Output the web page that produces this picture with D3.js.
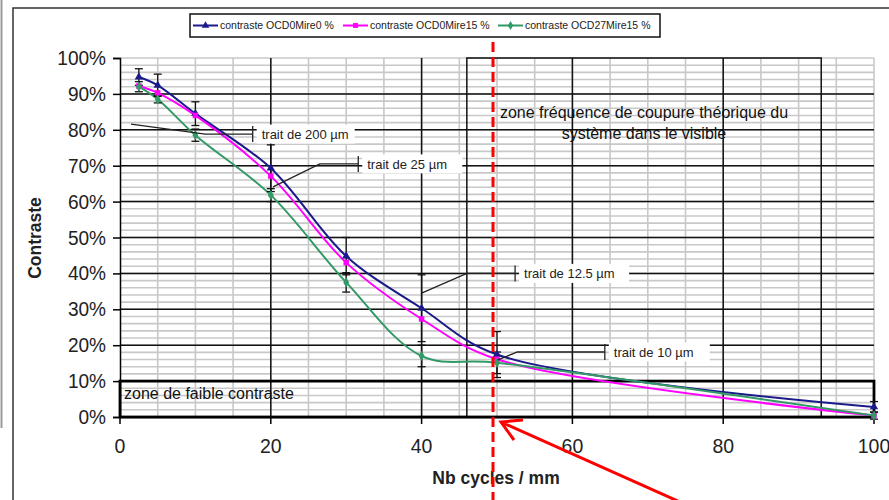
<!DOCTYPE html>
<html>
<head>
<meta charset="utf-8">
<script src="https://cdn.jsdelivr.net/npm/d3@7"></script>
<style>
  body { margin: 0; background: #fff; }
  svg { display: block; font-family: "Liberation Sans", Arial, sans-serif; }
</style>
</head>
<body>
<div id="chart"></div>
<script>
const cycles = [2.5, 5, 10, 20, 30, 40, 50, 100];
const seriesNames = ["contraste OCD0Mire0 %", "contraste OCD0Mire15 %", "contraste OCD27Mire15 %"];
const contrastOcd0Mire0 = [94.7, 92.4, 84.5, 69.3, 44.8, 30.3, 17.4, 2.8];
const contrastOcd0Mire15 = [92.2, 90.3, 84.0, 67.1, 43.0, 27.3, 16.1, 0.4];
const contrastOcd27Mire15 = [92.0, 88.5, 78.5, 61.8, 37.5, 17.0, 15.1, 0.4];
const errorOcd0Mire0 = [2.3, 3.1, 3.3, 6.5, 5.2, 9.3, 6.4, 1.5];
const errorOcd27Mire15 = [1.4, 1.0, 1.7, 1.8, 2.7, 3.0, 3.0, 1.0];
const xTicks = [0, 20, 40, 60, 80, 100];
const yTicks = [0, 10, 20, 30, 40, 50, 60, 70, 80, 90, 100];
const traitLabels = ["trait de 200 µm", "trait de 25 µm", "trait de 12.5 µm", "trait de 10 µm"];

const width = 889;
const height = 500;
const font = "'Liberation Sans', Arial, sans-serif";

const x = d3.scaleLinear().domain([0, 100]).range([120, 874]);
const y = d3.scaleLinear().domain([0, 100]).range([417, 58]);

const series = [
  { name: seriesNames[0], values: contrastOcd0Mire0, color: "#1a1a8a", symbol: d3.symbolTriangle, err: errorOcd0Mire0 },
  { name: seriesNames[1], values: contrastOcd0Mire15, color: "#ff00ff", symbol: d3.symbolSquare, err: null },
  { name: seriesNames[2], values: contrastOcd27Mire15, color: "#339966", symbol: d3.symbolDiamond, err: errorOcd27Mire15 },
];

const svg = d3.select("#chart").append("svg").attr("width", width).attr("height", height);

// frame around the figure
svg.append("line").attr("x1", 1.5).attr("x2", 1.5).attr("y1", 0).attr("y2", 428)
  .attr("stroke", "#999").attr("stroke-width", 2);
svg.append("path").attr("d", "M13,500V8H889").attr("fill", "none")
  .attr("stroke", "#333").attr("stroke-width", 1.5);

// grid
const grid = svg.append("g");
grid.selectAll(".vmin").data(d3.range(5, 101, 5)).enter().append("line")
  .attr("x1", (d) => x(d)).attr("x2", (d) => x(d)).attr("y1", y(100)).attr("y2", y(0))
  .attr("stroke", "#c8c8c8").attr("stroke-width", 1.6);
grid.selectAll(".hmin").data(d3.range(2, 101, 2)).enter().append("line")
  .attr("x1", x(0)).attr("x2", x(100)).attr("y1", (d) => y(d)).attr("y2", (d) => y(d))
  .attr("stroke", "#c8c8c8").attr("stroke-width", 1.6);
grid.selectAll(".hmaj").data(yTicks.filter((d) => d > 0 && d < 100)).enter().append("line")
  .attr("x1", x(0)).attr("x2", x(100)).attr("y1", (d) => y(d)).attr("y2", (d) => y(d))
  .attr("stroke", "#111").attr("stroke-width", 1.5);
grid.selectAll(".vmaj").data(xTicks.filter((d) => d > 0 && d < 100)).enter().append("line")
  .attr("x1", (d) => x(d)).attr("x2", (d) => x(d)).attr("y1", y(100)).attr("y2", y(0))
  .attr("stroke", "#111").attr("stroke-width", 1.5);

// zones
svg.append("rect").attr("x", x(46)).attr("y", y(100)).attr("width", x(93) - x(46)).attr("height", y(0) - y(100))
  .attr("fill", "none").attr("stroke", "#111").attr("stroke-width", 1.5);
svg.append("rect").attr("x", x(0)).attr("y", y(10)).attr("width", x(100) - x(0)).attr("height", y(0) - y(10))
  .attr("fill", "none").attr("stroke", "#000").attr("stroke-width", 2.8);

svg.append("text").attr("x", 124).attr("y", 399).attr("font-size", 16).attr("fill", "#111")
  .text("zone de faible contraste");
svg.append("text").attr("x", 644).attr("y", 118).attr("text-anchor", "middle").attr("font-size", 16).attr("fill", "#111")
  .text("zone fréquence de coupure théorique du");
svg.append("text").attr("x", 644).attr("y", 139).attr("text-anchor", "middle").attr("font-size", 16).attr("fill", "#111")
  .text("système dans le visible");

// axes
const yAxis = svg.append("g").attr("transform", `translate(${x(0)},0)`)
  .call(d3.axisLeft(y).tickValues(yTicks).tickSize(7).tickPadding(8).tickFormat((d) => d + "%"));
const xAxis = svg.append("g").attr("transform", `translate(0,${y(0)})`)
  .call(d3.axisBottom(x).tickValues(xTicks).tickSize(7).tickPadding(14).tickSizeOuter(0));
[xAxis, yAxis].forEach((a) => {
  a.select(".domain").attr("stroke", "#000").attr("stroke-width", 1.5);
  a.selectAll(".tick line").attr("stroke", "#000").attr("stroke-width", 1.5);
  a.selectAll(".tick text").attr("font-family", font).attr("font-size", 20.5).attr("fill", "#222");
});
yAxis.selectAll(".tick text").attr("transform", "scale(0.93,1)");
xAxis.selectAll(".tick text").attr("transform", "scale(0.95,1)")
  .attr("x", (d) => 0);
xAxis.selectAll(".tick").each(function (d) {
  d3.select(this).attr("transform", `translate(${x(d)},0)`);
});

svg.append("text").attr("x", 496).attr("y", 484).attr("text-anchor", "middle")
  .attr("font-size", 17.5).attr("font-weight", "bold").attr("fill", "#222").text("Nb cycles / mm");
svg.append("text").attr("transform", "translate(41,238) rotate(-90)").attr("text-anchor", "middle")
  .attr("font-size", 17.5).attr("font-weight", "bold").attr("fill", "#222").text("Contraste");

// series lines
const line = d3.line().x((d) => x(d[0])).y((d) => y(d[1])).curve(d3.curveCatmullRom.alpha(0.5));
series.forEach((s) => {
  const pts = cycles.map((c, i) => [c, s.values[i]]);
  svg.append("path").datum(pts).attr("d", line).attr("fill", "none")
    .attr("stroke", s.color).attr("stroke-width", 2);
});

// error bars
series.filter((s) => s.err).forEach((s) => {
  const g = svg.append("g").attr("stroke", "#111").attr("stroke-width", 1.3);
  cycles.forEach((c, i) => {
    const lo = y(s.values[i] - s.err[i]);
    const hi = y(s.values[i] + s.err[i]);
    g.append("line").attr("x1", x(c)).attr("x2", x(c)).attr("y1", lo).attr("y2", hi);
    g.append("line").attr("x1", x(c) - 4).attr("x2", x(c) + 4).attr("y1", lo).attr("y2", lo);
    g.append("line").attr("x1", x(c) - 4).attr("x2", x(c) + 4).attr("y1", hi).attr("y2", hi);
  });
});

// markers
series.forEach((s) => {
  svg.append("g").selectAll("path").data(cycles.map((c, i) => [c, s.values[i]])).enter().append("path")
    .attr("d", d3.symbol().type(s.symbol).size(30))
    .attr("transform", (d) => `translate(${x(d[0])},${y(d[1])})`)
    .attr("fill", s.color);
});

// callouts: leader in data units, then bar and label
const callouts = [
  { label: traitLabels[0], path: [[1.46, 81.6], [11.3, 78.8], [17.6, 78.8]], boxW: 98 },
  { label: traitLabels[1], path: [[20.3, 64.1], [26.5, 70.5], [31.6, 70.5]], boxW: 100 },
  { label: traitLabels[2], path: [[40.0, 34.5], [46.0, 40.0], [52.4, 40.0]], boxW: 110 },
  { label: traitLabels[3], path: [[50.1, 15.9], [52.7, 18.1], [64.3, 18.1]], boxW: 101 },
];
const leader = d3.line().x((d) => x(d[0])).y((d) => y(d[1]));
callouts.forEach((c) => {
  const end = c.path[c.path.length - 1];
  const ex = x(end[0]);
  const ey = y(end[1]);
  svg.append("path").attr("d", leader(c.path)).attr("fill", "none").attr("stroke", "#222").attr("stroke-width", 1.3);
  svg.append("line").attr("x1", ex).attr("x2", ex).attr("y1", ey - 8).attr("y2", ey + 8)
    .attr("stroke", "#222").attr("stroke-width", 1.3);
  svg.append("rect").attr("x", ex + 4).attr("y", ey - 9.5).attr("width", c.boxW).attr("height", 19).attr("fill", "#fff");
  svg.append("text").attr("x", ex + 9).attr("y", ey + 4.6).attr("font-size", 13).attr("fill", "#222").text(c.label);
});

// legend
const legend = svg.append("g").attr("transform", "translate(190,14)");
legend.append("rect").attr("width", 470).attr("height", 23).attr("fill", "#fff")
  .attr("stroke", "#111").attr("stroke-width", 1.5);
const legendX = [3, 153, 308];
series.forEach((s, i) => {
  const g = legend.append("g").attr("transform", `translate(${legendX[i]},11.5)`);
  g.append("line").attr("x1", 0).attr("x2", 25).attr("stroke", s.color).attr("stroke-width", 2);
  g.append("path").attr("d", d3.symbol().type(s.symbol).size(24)).attr("transform", "translate(12.5,0)").attr("fill", s.color);
  g.append("text").attr("x", 27).attr("y", 3.8).attr("font-size", 10.5).attr("fill", "#222").text(s.name);
});

// cutoff marker
svg.append("line").attr("x1", 493).attr("x2", 493).attr("y1", 42).attr("y2", 500)
  .attr("stroke", "#ff0000").attr("stroke-width", 3).attr("stroke-dasharray", "10,5");
svg.append("path").attr("d", "M680,502L501,422M523,420L501,422L514,440").attr("fill", "none")
  .attr("stroke", "#ff0000").attr("stroke-width", 3);
</script>
</body>
</html>
